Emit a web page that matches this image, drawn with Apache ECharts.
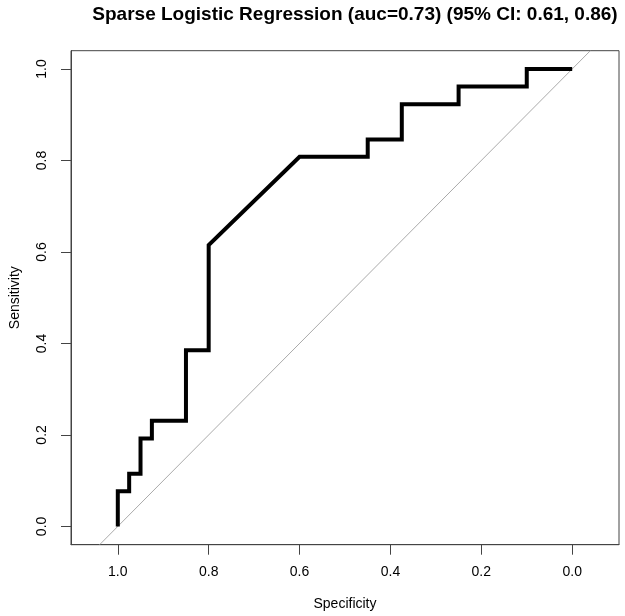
<!DOCTYPE html>
<html>
<head>
<meta charset="utf-8">
<script src="https://cdn.jsdelivr.net/npm/echarts@6/dist/echarts.min.js"></script>
<style>html,body{margin:0;padding:0;background:#fff}#c{width:625px;height:616px}</style>
</head>
<body>
<div id="c"></div>
<script>
// ROC curve data (specificity, sensitivity)
const specificity = [1, 1, 0.975, 0.975, 0.95, 0.95, 0.925, 0.925, 0.85, 0.85, 0.8, 0.8, 0.6, 0.45, 0.45, 0.375, 0.375, 0.25, 0.25, 0.1, 0.1, 0];
const sensitivity = [0, 0.077, 0.077, 0.115, 0.115, 0.192, 0.192, 0.231, 0.231, 0.385, 0.385, 0.615, 0.808, 0.808, 0.846, 0.846, 0.923, 0.923, 0.962, 0.962, 1, 1];
const diagSpec = [1.04, -0.04];
const diagSens = [-0.04, 1.04];
const tickValues = [0, 0.2, 0.4, 0.6, 0.8, 1.0];
const titleText = 'Sparse Logistic Regression (auc=0.73) (95% CI: 0.61, 0.86)';

const font = '"Liberation Sans", Arial, Helvetica, sans-serif';
const chart = echarts.init(document.getElementById('c'), null, {renderer: 'canvas'});
chart.setOption({
  animation: false,
  backgroundColor: '#fff',
  title: {
    text: titleText,
    left: 350, top: 0, textAlign: 'center',
    textStyle: {fontFamily: font, fontWeight: 'bold', fontSize: 19, color: '#000'}
  },
  grid: {
    left: 67.5, right: 6, top: 50.7, bottom: 71.3,
    show: true, borderColor: '#444', borderWidth: 1, backgroundColor: 'transparent'
  },
  xAxis: {
    type: 'value', inverse: true, min: -0.103, max: 1.103,
    name: 'Specificity', nameLocation: 'middle', nameGap: 52,
    nameTextStyle: {fontFamily: font, fontSize: 14, color: '#000'},
    axisLine: {show: true, onZero: false, lineStyle: {color: '#444', width: 1}},
    axisTick: {show: true, length: 10, customValues: tickValues, lineStyle: {color: '#444'}},
    axisLabel: {customValues: tickValues, margin: 20, fontFamily: font, fontSize: 14, color: '#000',
      formatter: v => v.toFixed(1)},
    splitLine: {show: false}
  },
  yAxis: {
    type: 'value', min: -0.04, max: 1.04,
    name: 'Sensitivity', nameLocation: 'middle', nameGap: 49,
    nameTextStyle: {fontFamily: font, fontSize: 14, color: '#000'},
    axisLine: {show: true, onZero: false, lineStyle: {color: '#444', width: 1}},
    axisTick: {show: true, length: 10, customValues: tickValues, lineStyle: {color: '#444'}},
    axisLabel: {customValues: tickValues, rotate: 90, margin: 22, fontFamily: font, fontSize: 14, color: '#000',
      formatter: v => v.toFixed(1)},
    splitLine: {show: false}
  },
  series: [
    {
      type: 'line', data: diagSpec.map((s, i) => [s, diagSens[i]]),
      symbol: 'none', lineStyle: {color: '#aaa', width: 1}, silent: true, z: 1
    },
    {
      type: 'line', data: specificity.map((s, i) => [s, sensitivity[i]]),
      symbol: 'none', lineStyle: {color: '#000', width: 4, join: 'miter'}, z: 2
    }
  ]
});
</script>
</body>
</html>
